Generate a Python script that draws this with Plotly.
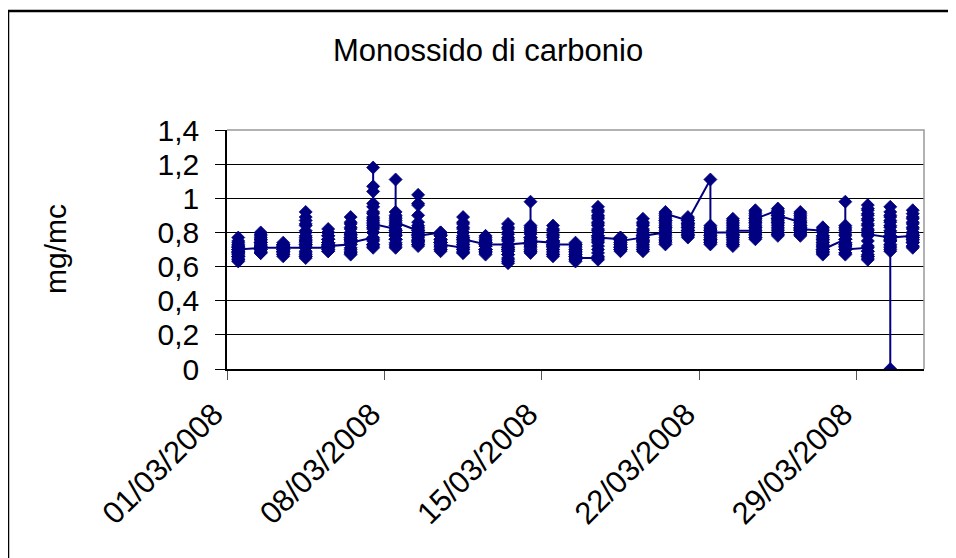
import plotly.graph_objects as go

# Hourly CO readings (mg/mc), March 2008, one list per day (01..31)
days = list(range(1, 32))
co_by_day = [
    [0.70, 0.68, 0.66, 0.65, 0.64, 0.63, 0.64, 0.66, 0.69, 0.72, 0.74, 0.77, 0.75, 0.73, 0.71, 0.69, 0.68, 0.67, 0.66, 0.68, 0.70, 0.72, 0.71, 0.70],
    [0.71, 0.70, 0.69, 0.68, 0.68, 0.68, 0.70, 0.73, 0.76, 0.78, 0.80, 0.79, 0.77, 0.75, 0.74, 0.72, 0.71, 0.70, 0.72, 0.74, 0.76, 0.74, 0.72, 0.71],
    [0.71, 0.70, 0.69, 0.68, 0.67, 0.66, 0.67, 0.69, 0.71, 0.72, 0.73, 0.74, 0.73, 0.72, 0.71, 0.70, 0.69, 0.68, 0.69, 0.70, 0.72, 0.73, 0.72, 0.71],
    [0.71, 0.69, 0.67, 0.66, 0.65, 0.66, 0.68, 0.72, 0.76, 0.80, 0.84, 0.87, 0.92, 0.89, 0.85, 0.81, 0.78, 0.75, 0.73, 0.74, 0.77, 0.75, 0.73, 0.71],
    [0.71, 0.70, 0.69, 0.69, 0.70, 0.72, 0.74, 0.76, 0.78, 0.80, 0.82, 0.80, 0.78, 0.76, 0.74, 0.73, 0.72, 0.71, 0.72, 0.74, 0.76, 0.74, 0.73, 0.72],
    [0.73, 0.71, 0.69, 0.68, 0.67, 0.68, 0.70, 0.73, 0.76, 0.79, 0.82, 0.85, 0.89, 0.86, 0.83, 0.80, 0.78, 0.76, 0.75, 0.77, 0.79, 0.77, 0.75, 0.74],
    [0.77, 0.75, 0.73, 0.72, 0.71, 0.73, 0.76, 0.80, 0.84, 0.88, 0.92, 0.97, 1.04, 1.18, 1.07, 0.95, 0.91, 0.87, 0.83, 0.80, 0.82, 0.86, 0.89, 0.85],
    [0.82, 0.79, 0.76, 0.74, 0.72, 0.71, 0.73, 0.76, 0.80, 0.85, 0.89, 0.92, 1.11, 0.90, 0.87, 0.84, 0.81, 0.78, 0.76, 0.78, 0.81, 0.84, 0.88, 0.86],
    [0.81, 0.78, 0.75, 0.73, 0.72, 0.73, 0.75, 0.79, 0.83, 0.86, 0.90, 0.97, 1.02, 0.96, 0.84, 0.82, 0.80, 0.77, 0.75, 0.74, 0.76, 0.79, 0.81, 0.78],
    [0.80, 0.78, 0.76, 0.74, 0.72, 0.70, 0.69, 0.70, 0.72, 0.74, 0.76, 0.78, 0.79, 0.80, 0.78, 0.76, 0.74, 0.72, 0.71, 0.72, 0.74, 0.75, 0.74, 0.73],
    [0.71, 0.70, 0.69, 0.68, 0.68, 0.70, 0.73, 0.77, 0.80, 0.82, 0.85, 0.89, 0.86, 0.83, 0.80, 0.78, 0.76, 0.74, 0.72, 0.71, 0.73, 0.75, 0.77, 0.76],
    [0.73, 0.72, 0.70, 0.69, 0.68, 0.67, 0.68, 0.70, 0.72, 0.74, 0.76, 0.78, 0.77, 0.75, 0.73, 0.72, 0.70, 0.69, 0.70, 0.72, 0.74, 0.75, 0.74, 0.73],
    [0.73, 0.71, 0.69, 0.67, 0.65, 0.63, 0.62, 0.64, 0.67, 0.70, 0.73, 0.76, 0.79, 0.82, 0.85, 0.83, 0.80, 0.77, 0.75, 0.72, 0.70, 0.69, 0.71, 0.73],
    [0.74, 0.72, 0.70, 0.69, 0.68, 0.69, 0.71, 0.74, 0.77, 0.80, 0.82, 0.84, 0.98, 0.83, 0.81, 0.79, 0.77, 0.75, 0.73, 0.72, 0.74, 0.76, 0.77, 0.75],
    [0.74, 0.72, 0.70, 0.68, 0.67, 0.66, 0.67, 0.69, 0.72, 0.75, 0.78, 0.81, 0.84, 0.82, 0.79, 0.77, 0.75, 0.73, 0.71, 0.70, 0.72, 0.74, 0.75, 0.73],
    [0.73, 0.72, 0.70, 0.69, 0.68, 0.67, 0.66, 0.65, 0.64, 0.63, 0.64, 0.66, 0.68, 0.70, 0.72, 0.74, 0.73, 0.71, 0.69, 0.67, 0.66, 0.65, 0.64, 0.65],
    [0.65, 0.64, 0.66, 0.68, 0.70, 0.72, 0.74, 0.76, 0.78, 0.80, 0.82, 0.84, 0.86, 0.88, 0.90, 0.92, 0.95, 0.93, 0.89, 0.85, 0.81, 0.78, 0.75, 0.77],
    [0.76, 0.75, 0.73, 0.72, 0.71, 0.70, 0.69, 0.70, 0.71, 0.73, 0.75, 0.76, 0.77, 0.76, 0.74, 0.72, 0.71, 0.70, 0.71, 0.72, 0.74, 0.76, 0.77, 0.75],
    [0.77, 0.75, 0.73, 0.71, 0.70, 0.69, 0.70, 0.72, 0.75, 0.78, 0.81, 0.84, 0.86, 0.88, 0.85, 0.82, 0.79, 0.77, 0.75, 0.74, 0.76, 0.78, 0.80, 0.78],
    [0.80, 0.78, 0.76, 0.75, 0.74, 0.73, 0.75, 0.77, 0.79, 0.81, 0.83, 0.85, 0.87, 0.89, 0.92, 0.90, 0.88, 0.86, 0.84, 0.82, 0.80, 0.83, 0.87, 0.91],
    [0.87, 0.85, 0.83, 0.81, 0.79, 0.78, 0.77, 0.78, 0.80, 0.82, 0.84, 0.86, 0.88, 0.89, 0.87, 0.85, 0.83, 0.81, 0.80, 0.79, 0.81, 0.83, 0.85, 0.87],
    [1.11, 0.84, 0.82, 0.80, 0.78, 0.76, 0.75, 0.74, 0.73, 0.74, 0.76, 0.78, 0.80, 0.82, 0.83, 0.81, 0.79, 0.77, 0.75, 0.76, 0.78, 0.80, 0.81, 0.80],
    [0.80, 0.78, 0.76, 0.74, 0.73, 0.72, 0.73, 0.75, 0.77, 0.79, 0.81, 0.83, 0.85, 0.87, 0.88, 0.86, 0.84, 0.82, 0.80, 0.78, 0.77, 0.79, 0.80, 0.81],
    [0.81, 0.79, 0.78, 0.77, 0.76, 0.77, 0.79, 0.81, 0.83, 0.85, 0.87, 0.89, 0.91, 0.93, 0.92, 0.90, 0.88, 0.86, 0.84, 0.82, 0.80, 0.83, 0.86, 0.88],
    [0.93, 0.92, 0.90, 0.88, 0.86, 0.84, 0.82, 0.80, 0.79, 0.78, 0.79, 0.81, 0.83, 0.85, 0.87, 0.89, 0.91, 0.94, 0.92, 0.90, 0.88, 0.86, 0.88, 0.90],
    [0.86, 0.84, 0.82, 0.80, 0.79, 0.78, 0.79, 0.81, 0.83, 0.85, 0.87, 0.89, 0.91, 0.92, 0.90, 0.88, 0.86, 0.84, 0.82, 0.81, 0.80, 0.82, 0.83, 0.82],
    [0.81, 0.83, 0.82, 0.80, 0.78, 0.76, 0.74, 0.72, 0.70, 0.69, 0.68, 0.67, 0.68, 0.70, 0.72, 0.74, 0.76, 0.78, 0.77, 0.75, 0.73, 0.71, 0.69, 0.70],
    [0.76, 0.74, 0.72, 0.70, 0.68, 0.67, 0.68, 0.70, 0.73, 0.76, 0.79, 0.82, 0.84, 0.98, 0.83, 0.81, 0.78, 0.76, 0.74, 0.72, 0.71, 0.73, 0.72, 0.70],
    [0.71, 0.69, 0.67, 0.66, 0.65, 0.64, 0.66, 0.69, 0.72, 0.75, 0.78, 0.81, 0.84, 0.87, 0.90, 0.93, 0.96, 0.94, 0.91, 0.88, 0.85, 0.82, 0.80, 0.79],
    [0.77, 0.75, 0.73, 0.71, 0.69, 0.00, 0.70, 0.72, 0.75, 0.78, 0.81, 0.84, 0.87, 0.90, 0.95, 0.92, 0.89, 0.86, 0.83, 0.80, 0.78, 0.76, 0.75, 0.77],
    [0.78, 0.76, 0.74, 0.72, 0.71, 0.72, 0.74, 0.77, 0.80, 0.83, 0.86, 0.89, 0.93, 0.91, 0.88, 0.85, 0.82, 0.80, 0.78, 0.76, 0.75, 0.77, 0.79, 0.78],
]

tick_dates = ["2008-03-01", "2008-03-08", "2008-03-15", "2008-03-22", "2008-03-29"]
tick_labels = ["01/03/2008", "08/03/2008", "15/03/2008", "22/03/2008", "29/03/2008"]
y_ticks = [0, 0.2, 0.4, 0.6, 0.8, 1.0, 1.2, 1.4]
y_tick_labels = ["0", "0,2", "0,4", "0,6", "0,8", "1", "1,2", "1,4"]

# Excel date axis: every reading of a day falls on that day's slot (centre of the day)
xs, ys = [], []
for d, vals in zip(days, co_by_day):
    for v in vals:
        xs.append(f"2008-03-{d:02d} 12:00")
        ys.append(v)

NAVY = "#000080"
FONT = "Arial, 'Liberation Sans', sans-serif"

# page body has an 8px margin: the figure starts at (8, 8) and is sized to end at the window edge
W, H = 948, 550
L, T, PW, PH = 219, 122, 697, 239

def px_x(x):  # page x pixel -> paper coordinate
    return (x - 8 - L) / PW

def px_y(y):  # page y pixel -> paper coordinate
    return (T + PH - (y - 8)) / PH

fig = go.Figure()
fig.add_trace(go.Scatter(
    x=xs, y=ys, mode="lines+markers",
    line=dict(color=NAVY, width=2),
    marker=dict(symbol="diamond", size=10, color=NAVY, line=dict(width=0.8, color=NAVY)),
    showlegend=False,
))

frame_path = "M {l},{b} L {l},{t} L {r},{t}".format(
    l=px_x(8), b=px_y(600), t=px_y(11), r=px_x(1000))

fig.update_layout(
    width=W, height=H,
    margin=dict(l=L, r=W - L - PW, t=T, b=H - T - PH),
    paper_bgcolor="white", plot_bgcolor="white",
    font=dict(family=FONT, size=30, color="black"),
    xaxis=dict(
        type="date", range=["2008-03-01", "2008-04-01"],
        tickvals=tick_dates, ticktext=tick_labels, tickangle=-45,
        ticks="outside", ticklen=9, tickcolor="#555555", tickwidth=1,
        showline=True, linecolor="black", linewidth=1.5,
        showgrid=False, zeroline=False,
        ticklabelshift=-13, ticklabelstandoff=4,
        tickfont=dict(family=FONT, size=31, color="black"),
    ),
    yaxis=dict(
        range=[0, 1.4], tickvals=y_ticks, ticktext=y_tick_labels,
        ticks="outside", ticklen=10, tickcolor="black", tickwidth=1,
        showline=True, linecolor="black", linewidth=1.5,
        showgrid=True, gridcolor="black", gridwidth=1,
        zeroline=False, ticklabelstandoff=10,
        tickfont=dict(family=FONT, size=30, color="black"),
    ),
    shapes=[
        # grey plot-area border (top and right)
        dict(type="path", xref="paper", yref="paper",
             path="M 0,1 L 1,1 L 1,0", line=dict(color="#999999", width=1.5), layer="above"),
        # chart-area frame: left and top edges (the rest lies outside the window)
        dict(type="path", xref="paper", yref="paper", path=frame_path,
             line=dict(color="black", width=2.5), layer="above"),
    ],
    annotations=[
        dict(text="Monossido di carbonio", xref="paper", yref="paper",
             x=px_x(488), y=px_y(50), xanchor="center", yanchor="middle",
             showarrow=False, font=dict(family=FONT, size=31, color="black")),
        dict(text="mg/mc", xref="paper", yref="paper", textangle=-90,
             x=px_x(55), y=px_y(249), xanchor="center", yanchor="middle",
             showarrow=False, font=dict(family=FONT, size=30, color="black")),
    ],
)

fig.write_html("out.html")
